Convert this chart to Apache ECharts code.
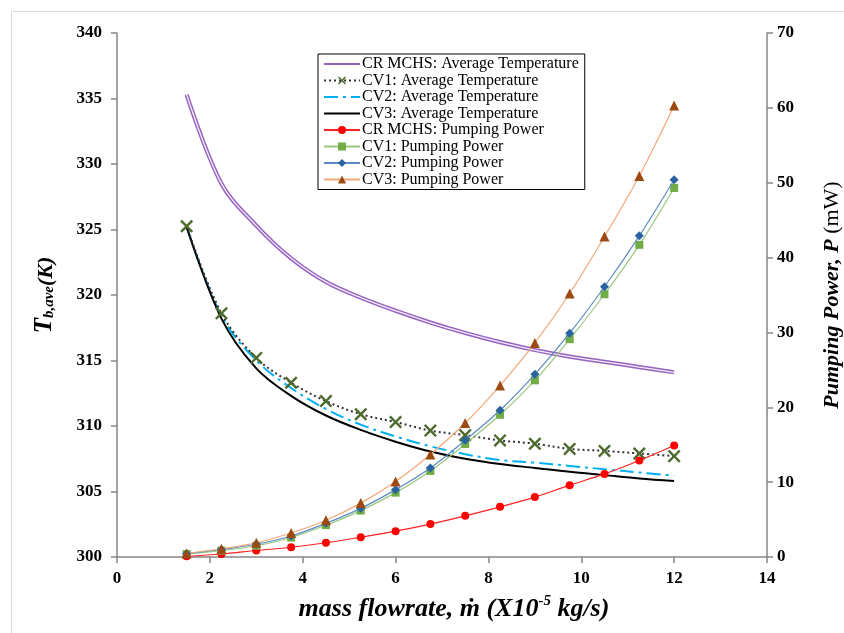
<!DOCTYPE html>
<html><head><meta charset="utf-8">
<script src="https://cdn.jsdelivr.net/npm/echarts@6/dist/echarts.min.js"></script>
<style>html,body{margin:0;padding:0;background:#fff}#c{width:844px;height:633px}</style>
</head><body><div id="c"></div>
<script>
// mass flowrate (x10^-5 kg/s)
const flowrate = [1.5, 2.25, 3, 3.75, 4.5, 5.25, 6, 6.75, 7.5, 8.25, 9, 9.75, 10.5, 11.25, 12];
// average temperature (K)
const tempCR  = [335.3, 328.5, 325.3, 322.8, 321.0, 319.8, 318.8, 317.9, 317.1, 316.4, 315.8, 315.3, 314.9, 314.5, 314.1];
const tempCV1 = [325.25, 318.6, 315.2, 313.3, 311.9, 310.9, 310.3, 309.65, 309.3, 308.9, 308.65, 308.25, 308.1, 307.9, 307.7];
const tempCV2 = [325.2, 318.4, 315.0, 312.9, 311.3, 310.1, 309.2, 308.45, 307.85, 307.4, 307.2, 306.95, 306.7, 306.45, 306.2];
const tempCV3 = [325.2, 318.2, 314.4, 312.3, 310.8, 309.7, 308.8, 308.05, 307.5, 307.1, 306.8, 306.5, 306.25, 306.0, 305.8];
// pumping power (mW)
const powCR  = [0.1, 0.4, 0.87, 1.3, 1.9, 2.65, 3.45, 4.4, 5.5, 6.7, 8.0, 9.6, 11.1, 12.9, 14.9];
const powCV1 = [0.4, 0.85, 1.5, 2.6, 4.25, 6.2, 8.6, 11.5, 15.1, 19.0, 23.6, 29.1, 35.1, 41.7, 49.3];
const powCV2 = [0.45, 1.0, 1.7, 2.8, 4.5, 6.5, 9.0, 11.9, 15.6, 19.6, 24.4, 29.9, 36.1, 42.9, 50.4];
const powCV3 = [0.47, 1.1, 1.9, 3.2, 4.9, 7.2, 10.1, 13.7, 17.9, 22.9, 28.6, 35.2, 42.8, 50.9, 60.3];
// axis ticks
const xTicks = {min: 0, max: 14, interval: 2};
const tTicks = {min: 300, max: 340, interval: 5};
const pTicks = {min: 0, max: 70, interval: 10};

const names = [
  'CR MCHS: Average Temperature', 'CV1: Average Temperature', 'CV2: Average Temperature', 'CV3: Average Temperature',
  'CR MCHS: Pumping Power', 'CV1: Pumping Power', 'CV2: Pumping Power', 'CV3: Pumping Power'
];
const noMarker = [true, false, true, true, false, false, false, false];
const pair = arr => flowrate.map((x, i) => [x, arr[i]]);
const SERIF = '"Liberation Serif", "DejaVu Serif", serif';
const xPath = 'path://M0,1.3 L1.3,0 L5,3.7 L8.7,0 L10,1.3 L6.3,5 L10,8.7 L8.7,10 L5,6.3 L1.3,10 L0,8.7 L3.7,5 Z';

const axisLine = {show: true, lineStyle: {color: '#868686', width: 1.5}};
const axisTick = {show: true, inside: false, length: 6, lineStyle: {color: '#868686', width: 1.5}};
const tickLabel = {color: '#000', fontFamily: SERIF, fontWeight: 'bold', fontSize: 17};
const SM = {smooth: 0.35};

const chart = echarts.init(document.getElementById('c'), null, {renderer: 'canvas'});
chart.setOption({
  animation: false,
  backgroundColor: '#fff',
  graphic: [{
    type: 'rect', left: 9, top: 9, shape: {width: 850, height: 640},
    style: {fill: 'none', stroke: '#d9d9d9', lineWidth: 1}, silent: true, z: -10
  }],
  grid: {left: 117, right: 77, top: 33, bottom: 76, containLabel: false, outerBoundsMode: 'none'},
  legend: {
    orient: 'vertical', left: 318, top: 54,
    data: names.map((n, i) => noMarker[i] ? {name: n, itemStyle: {opacity: 0}} : {name: n}),
    padding: [2, 6, 2, 5], itemGap: 0.5, itemWidth: 36, itemHeight: 10,
    backgroundColor: '#fff', borderColor: '#000', borderWidth: 1,
    textStyle: {fontFamily: SERIF, fontSize: 16, lineHeight: 16, color: '#000', padding: [0, 0, 0, -3]}
  },
  xAxis: {
    type: 'value', min: xTicks.min, max: xTicks.max, interval: xTicks.interval,
    splitLine: {show: false}, axisLine, axisTick,
    axisLabel: Object.assign({margin: 13}, tickLabel),
    name: '{a|mass flowrate, ṁ (X10}{sup|-5}{a| kg/s)}',
    nameLocation: 'middle', nameGap: 37,
    nameTextStyle: {
      padding: [0, 0, 0, 24],
      rich: {
        a: {fontFamily: SERIF, fontStyle: 'italic', fontWeight: 'bold', fontSize: 26, color: '#000', lineHeight: 28, verticalAlign: 'bottom'},
        sup: {fontFamily: SERIF, fontStyle: 'italic', fontWeight: 'bold', fontSize: 15, color: '#000', lineHeight: 28, verticalAlign: 'top'}
      }
    }
  },
  yAxis: [{
    type: 'value', position: 'left', min: tTicks.min, max: tTicks.max, interval: tTicks.interval,
    splitLine: {show: false}, axisLine, axisTick,
    axisLabel: Object.assign({margin: 15}, tickLabel),
    name: '{t|T}{s|b,ave}{k|(K)}',
    nameLocation: 'middle', nameGap: 60, nameRotate: 90,
    nameTextStyle: {
      rich: {
        t: {fontFamily: SERIF, fontStyle: 'italic', fontWeight: 'bold', fontSize: 25, color: '#000', lineHeight: 28, verticalAlign: 'bottom'},
        s: {fontFamily: SERIF, fontStyle: 'italic', fontWeight: 'bold', fontSize: 15, color: '#000', lineHeight: 12, verticalAlign: 'bottom'},
        k: {fontFamily: SERIF, fontStyle: 'italic', fontWeight: 'bold', fontSize: 22, color: '#000', lineHeight: 28, verticalAlign: 'bottom'}
      }
    }
  }, {
    type: 'value', position: 'right', min: pTicks.min, max: pTicks.max, interval: pTicks.interval,
    splitLine: {show: false}, axisLine, axisTick,
    axisLabel: Object.assign({margin: 10}, tickLabel),
    name: '{i|Pumping Power, P }{n|(mW)}',
    nameLocation: 'middle', nameGap: 54, nameRotate: 90,
    nameTextStyle: {
      rich: {
        i: {fontFamily: SERIF, fontStyle: 'italic', fontWeight: 'bold', fontSize: 22, color: '#000'},
        n: {fontFamily: SERIF, fontWeight: 'normal', fontSize: 22, color: '#000'}
      }
    }
  }],
  series: [
    Object.assign({name: names[0], type: 'line', yAxisIndex: 0, data: pair(tempCR), showSymbol: false, symbol: 'none',
     color: '#9562c0', lineStyle: {color: '#9562c0', width: 4.2}, z: 3}, SM),
    Object.assign({name: '_crInner', type: 'line', yAxisIndex: 0, data: pair(tempCR), showSymbol: false, symbol: 'none',
     lineStyle: {color: '#f3ecf9', width: 1.3}, z: 4, silent: true}, SM),
    Object.assign({name: names[1], type: 'line', yAxisIndex: 0, data: pair(tempCV1), symbol: xPath, symbolSize: 13,
     color: '#4b6a2c', itemStyle: {color: '#4b6a2c'}, lineStyle: {color: '#333', width: 2, type: [2, 3]}, z: 5}, SM),
    Object.assign({name: names[2], type: 'line', yAxisIndex: 0, data: pair(tempCV2), symbol: 'none',
     color: '#00b0f0', lineStyle: {color: '#00b0f0', width: 2, type: [14, 5, 3, 5]}, z: 4}, SM),
    Object.assign({name: names[3], type: 'line', yAxisIndex: 0, data: pair(tempCV3), symbol: 'none',
     color: '#000', lineStyle: {color: '#000', width: 2}, z: 4}, SM),
    Object.assign({name: names[4], type: 'line', yAxisIndex: 1, data: pair(powCR), symbol: 'circle', symbolSize: 8,
     color: '#ff0000', itemStyle: {color: '#ff0000'}, lineStyle: {color: '#ff2020', width: 1.2}, z: 6}, SM),
    Object.assign({name: names[5], type: 'line', yAxisIndex: 1, data: pair(powCV1), symbol: 'rect', symbolSize: 8,
     color: '#70ad47', itemStyle: {color: '#70ad47'}, lineStyle: {color: '#9bc77e', width: 1.2}, z: 6}, SM),
    Object.assign({name: names[6], type: 'line', yAxisIndex: 1, data: pair(powCV2), symbol: 'diamond', symbolSize: 9,
     color: '#2a64a0', itemStyle: {color: '#2a64a0'}, lineStyle: {color: '#5c8bc4', width: 1.2}, z: 7}, SM),
    Object.assign({name: names[7], type: 'line', yAxisIndex: 1, data: pair(powCV3), symbol: 'triangle', symbolSize: 10,
     color: '#9c4a12', itemStyle: {color: '#9c4a12'}, lineStyle: {color: '#f4a878', width: 1.2}, z: 7}, SM)
  ]
});
</script>
</body></html>
